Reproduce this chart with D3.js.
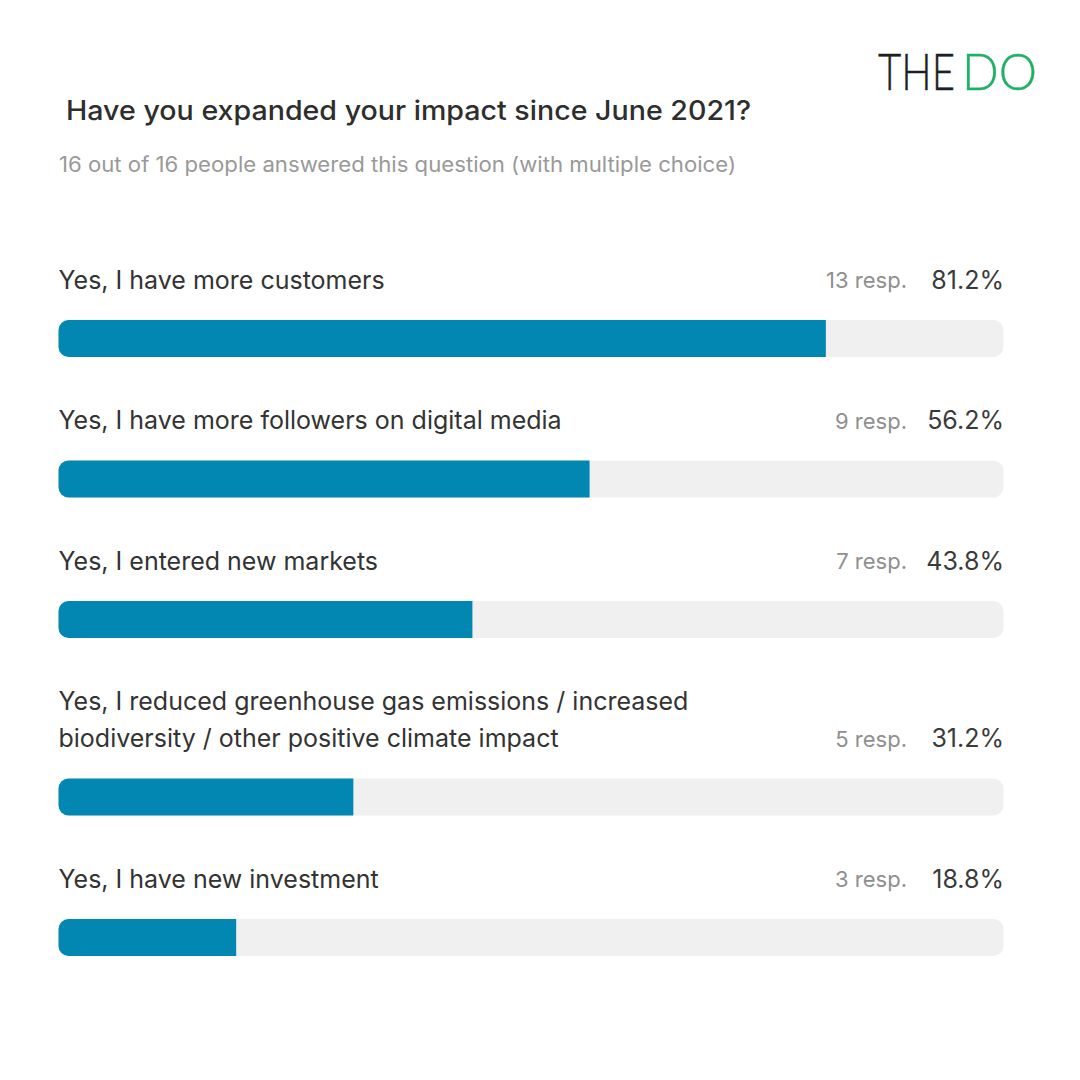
<!DOCTYPE html>
<html>
<head>
<meta charset="utf-8">
<script src="https://cdn.jsdelivr.net/npm/d3@7"></script>
<style>
  html, body { margin: 0; background: #fff; }
  text { font-family: Inter, "Liberation Sans", sans-serif; }
</style>
</head>
<body>
<div id="chart"></div>
<script>
const labels = [
  ['Yes, I have more customers'],
  ['Yes, I have more followers on digital media'],
  ['Yes, I entered new markets'],
  ['Yes, I reduced greenhouse gas emissions / increased', 'biodiversity / other positive climate impact'],
  ['Yes, I have new investment']
];
const responses = [13, 9, 7, 5, 3];
const percents = [81.2, 56.2, 43.8, 31.2, 18.8];

const title = 'Have you expanded your impact since June 2021?';
const subtitle = '16 out of 16 people answered this question (with multiple choice)';

const w = 1080, h = 1080;
const left = 58.5, right = 1003.5;
const barH = 37;
const lineH = 37;
const rowGap = 140.5;

const svg = d3.select('#chart').append('svg').attr('width', w).attr('height', h);

const x = d3.scaleLinear().domain([0, 100]).range([left, right]);

// logo, squeezed to the width it has in the picture
function logo(txt, x0, width, color) {
  const t = svg.append('text')
    .attr('font-size', 52).attr('fill', color)
    .attr('stroke', color).attr('stroke-width', 0.4)
    .style('font-family', 'Lato').style('font-weight', 300)
    .text(txt);
  const k = width / t.node().getComputedTextLength();
  t.attr('transform', `translate(${x0},90) scale(${k},1)`);
}
logo('THE', 878, 77, '#1f1f1f');
logo('DO', 962, 75, '#1fb065');

svg.append('text').attr('x', 66).attr('y', 120)
  .attr('font-size', 27).attr('font-weight', 500).attr('fill', '#2e2e2e')
  .attr('textLength', 685).attr('lengthAdjust', 'spacingAndGlyphs')
  .text(title);
svg.append('text').attr('x', 59).attr('y', 171.5)
  .attr('font-size', 21).attr('fill', '#999')
  .attr('textLength', 677).attr('lengthAdjust', 'spacingAndGlyphs')
  .text(subtitle);

// row tops depend on how many lines the label has
let y = 288;
const rows = labels.map((l, i) => {
  const last = y + (l.length - 1) * lineH;
  const r = { lines: l, first: y, last: last, resp: responses[i], pct: percents[i] };
  y = last + rowGap;
  return r;
});

const row = svg.selectAll('g.row').data(rows).enter().append('g').attr('class', 'row');

row.each(function (d) {
  const g = d3.select(this);
  d.lines.forEach((t, j) => {
    g.append('text').attr('x', left).attr('y', d.first + j * lineH + 0.5)
      .attr('font-size', 25).attr('fill', '#333').text(t);
  });
  g.append('text').attr('x', 907).attr('y', d.last).attr('text-anchor', 'end')
    .attr('font-size', 22).attr('fill', '#8f8f8f').text(d.resp + ' resp.');
  g.append('text').attr('x', right + 0.5).attr('y', d.last + 0.5).attr('text-anchor', 'end')
    .attr('font-size', 25).attr('fill', '#3a3a3a').text(d.pct.toFixed(1) + '%');
  // track
  g.append('rect').attr('x', x(0)).attr('y', d.last + 32)
    .attr('width', x(100) - x(0)).attr('height', barH)
    .attr('rx', 10).attr('fill', '#f0f0f0');
  // value, rounded on the left only
  const bx = x(0), bw = x(d.pct) - x(0), by = d.last + 32, r = 10;
  const p = d3.path();
  p.moveTo(bx + bw, by);
  p.lineTo(bx + r, by);
  p.arcTo(bx, by, bx, by + r, r);
  p.lineTo(bx, by + barH - r);
  p.arcTo(bx, by + barH, bx + r, by + barH, r);
  p.lineTo(bx + bw, by + barH);
  p.closePath();
  g.append('path').attr('d', p.toString()).attr('fill', '#0286b2');
});
</script>
</body>
</html>
